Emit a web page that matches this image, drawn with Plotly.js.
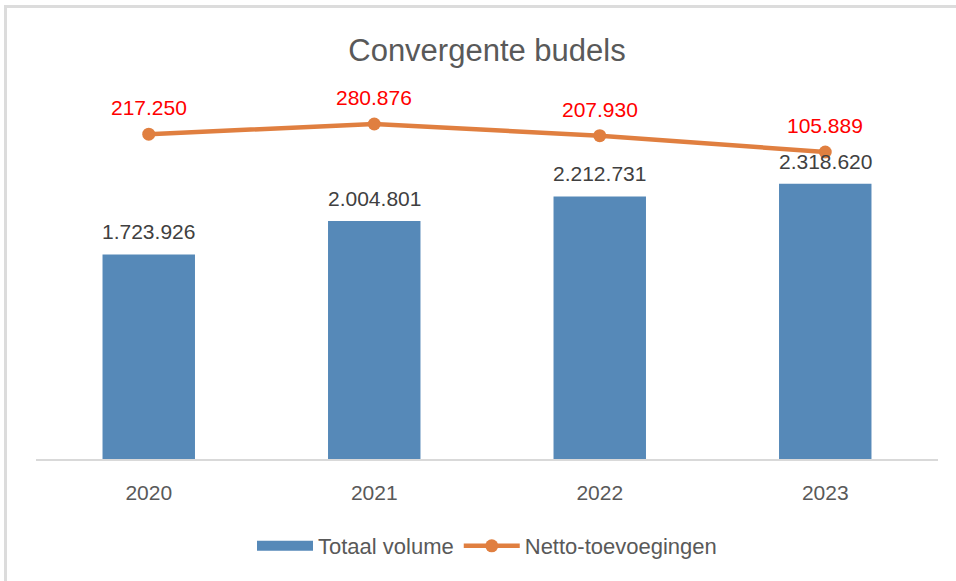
<!DOCTYPE html>
<html>
<head>
<meta charset="utf-8">
<script src="https://cdn.plot.ly/plotly-3.0.1.min.js"></script>
<style>
  html, body { margin: 0; padding: 0; background: #ffffff; }
  #chart { position: absolute; left: 0; top: 0; width: 956px; height: 581px; }
  #frame { position: absolute; left: 4px; top: 5px; width: 952px; height: 576px; border-top: 3px solid #dcdcdc; border-left: 3px solid #dcdcdc; pointer-events: none; box-sizing: border-box; }
</style>
</head>
<body>
<div id="chart"></div>
<div id="frame"></div>
<script>
const years = ['2020', '2021', '2022', '2023'];
const totaalVolume = [1723926, 2004801, 2212731, 2318620];
const nettoToevoegingen = [217250, 280876, 207930, 105889];

const FONT = 'Liberation Sans, Arial, sans-serif';
const BLUE = '#5689B8';
const ORANGE = '#E07F40';

const barTrace = {
  type: 'bar',
  name: 'Totaal volume',
  x: years,
  y: totaalVolume,
  marker: { color: BLUE },
  showlegend: false
};

// legend-only helper so the bar legend swatch is a wide rectangle
const barLegend = {
  type: 'scatter',
  mode: 'lines',
  name: 'Totaal volume',
  x: [null],
  y: [null],
  line: { color: BLUE, width: 14 },
  hoverinfo: 'skip'
};

const lineTrace = {
  type: 'scatter',
  mode: 'lines+markers',
  name: 'Netto-toevoegingen',
  x: years,
  y: nettoToevoegingen,
  yaxis: 'y2',
  line: { color: ORANGE, width: 4.5 },
  marker: { color: ORANGE, size: 13 }
};

function fmt(v) {
  return String(v).replace(/\B(?=(\d{3})+(?!\d))/g, '.');
}

const annotations = [];
years.forEach((yr, i) => {
  annotations.push({
    x: i, y: totaalVolume[i], xref: 'x', yref: 'y',
    text: fmt(totaalVolume[i]), showarrow: false,
    yanchor: 'bottom', yshift: 9,
    font: { family: FONT, size: 21, color: '#404040' }
  });
  annotations.push({
    x: i, y: nettoToevoegingen[i], xref: 'x', yref: 'y2',
    text: fmt(nettoToevoegingen[i]), showarrow: false,
    yanchor: 'bottom', yshift: 13,
    font: { family: FONT, size: 21, color: '#FF0000' }
  });
});

const layout = {
  width: 956, height: 581,
  paper_bgcolor: '#ffffff', plot_bgcolor: '#ffffff',
  separators: ',.',
  margin: { l: 36, r: 18, t: 103, b: 122 },
  title: {
    text: 'Convergente budels',
    x: 0.5, xanchor: 'center', xref: 'paper',
    y: 1 - 50 / 581, yanchor: 'middle', yref: 'container',
    font: { family: FONT, size: 31, color: '#595959' }
  },
  bargap: 0.59,
  xaxis: {
    type: 'category',
    range: [-0.5, 3.5],
    showline: true, linecolor: '#d9d9d9', linewidth: 1.5,
    ticks: '', showgrid: false, zeroline: false,
    tickfont: { family: FONT, size: 21, color: '#595959' },
    ticklabelstandoff: 14
  },
  yaxis: {
    range: [0, 3000000],
    visible: false, showgrid: false, zeroline: false
  },
  yaxis2: {
    range: [-1812700, 412116],
    overlaying: 'y', side: 'right',
    visible: false, showgrid: false, zeroline: false
  },
  showlegend: true,
  legend: {
    orientation: 'h',
    x: 0.5, xanchor: 'center',
    y: -87 / 356, yanchor: 'middle',
    font: { family: FONT, size: 22, color: '#595959' },
    itemwidth: 56,
    traceorder: 'normal'
  },
  annotations: annotations
};

Plotly.newPlot('chart', [barTrace, barLegend, lineTrace], layout, { displayModeBar: false, staticPlot: true });
</script>
</body>
</html>
